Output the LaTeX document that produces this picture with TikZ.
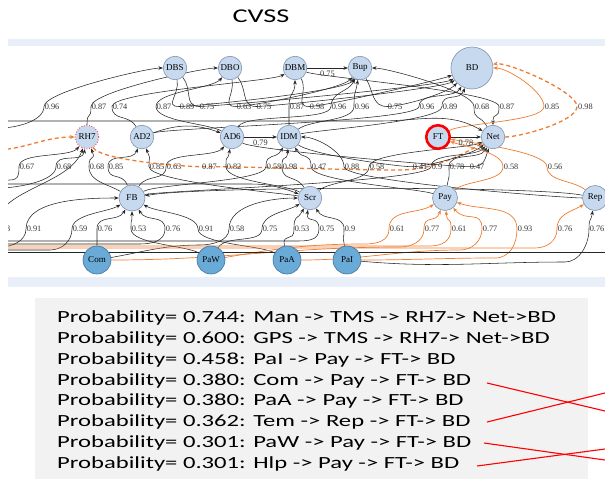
\documentclass[tikz,border=0pt]{standalone}
\usepackage{graphicx}
\usepackage{fontspec}
\setmainfont{Liberation Serif}
\newfontfamily\carl{Carlito}
\usetikzlibrary{arrows.meta}
\definecolor{nfill}{HTML}{C6D9EF}
\definecolor{ndraw}{HTML}{7F93AD}
\definecolor{bfill}{HTML}{6AAAD6}
\definecolor{bdraw}{HTML}{41719C}
\definecolor{org}{HTML}{ED7D31}
\definecolor{band}{HTML}{E9EFF8}
\definecolor{gbox}{HTML}{F2F2F2}
\pgfdeclarelayer{bg}\pgfsetlayers{bg,main}
\tikzset{
 nd/.style={circle, draw=ndraw, fill=nfill, line width=0.6pt, minimum size=23.5pt, inner sep=0pt, font=\fontsize{9}{9}\selectfont},
 bn/.style={nd, fill=bfill, draw=bdraw, minimum size=28pt},
 big/.style={nd, minimum size=42pt},
 ed/.style={draw=black!85, line width=0.55pt, -{Stealth[length=4.5pt,width=3.5pt]}},
 oe/.style={draw=org, line width=0.7pt, -{Stealth[length=4.5pt,width=3.5pt]}},
 od/.style={draw=org, line width=1.3pt, dash pattern=on 4pt off 3pt, -{Stealth[length=5pt,width=4pt]}},
 lab/.style={anchor=west, inner sep=0.5pt, font=\fontsize{8.3}{8.3}\selectfont, text=black!80},
 tl/.style={anchor=base west, inner sep=0pt, text=black, font=\carl\fontsize{17}{17}\selectfont},
 rl/.style={draw=red, line width=1.1pt},
}
\newcommand\edg[9][]{\draw[ed,#1] (#2) to[out=#3,in=#4,distance=15pt] (#5) node[lab]{#6} to[out=#7,in=#8,distance=15pt] (#9);}
\begin{document}
\begin{tikzpicture}[x=1pt,y=1pt]
\useasboundingbox (0,0) rectangle (605,-479);
\node[font=\carl\fontsize{19.5}{19.5}\selectfont] (title) at (261,-16.5) {\scalebox{1.45}[1]{CVSS}};
% nodes
\node[nd] (DBS) at (175,-68) {DBS};
\node[nd] (DBO) at (230,-68) {DBO};
\node[nd] (DBM) at (295,-68) {DBM};
\node[nd] (Bup) at (360,-68) {Bup};
\node[big] (BD) at (472,-68) {BD};
\node[nd, draw=red, dotted, line width=0.9pt] (RH7) at (87,-137) {RH7};
\node[nd] (AD2) at (142,-137) {AD2};
\node[nd] (AD6) at (232,-137) {AD6};
\node[nd] (IDM) at (289,-137) {IDM};
\node[nd, draw=red, line width=2.6pt] (FT) at (438,-137) {FT};
\node[nd] (Net) at (493,-137) {Net};
\node[nd, minimum size=26pt] (FB) at (132,-198) {FB};
\node[nd] (Scr) at (310,-198) {Scr};
\node[nd, minimum size=25pt] (Pay) at (445,-198) {Pay};
\node[nd, minimum size=25pt] (Rep) at (595,-198) {Rep};
\node[bn] (Com) at (97,-260) {Com};
\node[bn] (PaW) at (211,-260) {PaW};
\node[bn] (PaA) at (287,-260) {PaA};
\node[bn] (PaI) at (347,-260) {PaI};
% off-canvas ends
\coordinate (W1) at (0,-128);
\coordinate (W1b) at (0,-121);
\coordinate (W2) at (0,-150);
\coordinate (W3) at (0,-180);
\coordinate (W4) at (0,-188);
\coordinate (W5) at (0,-184);
\coordinate (Wa) at (-40,-250);
\coordinate (W6) at (0,-247);
\coordinate (W7) at (0,-250);
\coordinate (W8) at (0,-244);
\coordinate (W9) at (0,-241);
\coordinate (W10) at (0,-246);
\coordinate (W11) at (0,-248);
\coordinate (W12) at (0,-252);
\coordinate (E1) at (615,-252);
\begin{pgfonlayer}{bg}
\fill[white] (0,0) rectangle (605,-479);
\fill[band] (8,-39) rectangle (605,-46);
\fill[band] (8,-277) rectangle (605,-287);
\fill[gbox] (35,-298) rectangle (588,-479);
\begin{scope}
\clip (8,-46) rectangle (605,-277);
% top label row
\edg{W1}{0}{-90}{44,-106.5}{0.96}{90}{180}{DBS}
\edg{RH7}{90}{-90}{91,-106.5}{0.87}{90}{180}{DBO}
\edg{AD2}{120}{-90}{112,-106.5}{0.74}{90}{-150}{DBM}
\edg{AD6}{150}{-90}{156,-106.5}{0.87}{90}{-130}{DBO}
\edg{DBS}{-80}{180}{179,-106.5}{0.89}{0}{-120}{Bup}
\edg{DBS}{-50}{180}{199,-106.5}{0.75}{0}{-150}{BD}
\edg{DBO}{-80}{180}{236,-106.5}{0.63}{0}{-130}{Bup}
\edg{DBO}{-50}{180}{256,-106.5}{0.75}{0}{-145}{BD}
\edg{IDM}{90}{-90}{289,-106.5}{0.87}{90}{-90}{DBM}
\edg{DBM}{-60}{180}{309,-106.5}{0.98}{0}{-160}{BD}
\edg{AD6}{60}{-90}{331,-106.5}{0.96}{90}{-115}{Bup}
\edg{IDM}{40}{-90}{354,-106.5}{0.96}{90}{-100}{Bup}
\edg{Bup}{-60}{180}{387,-106.5}{0.75}{0}{-135}{BD}
\edg{AD2}{20}{-90}{419,-106.5}{0.96}{90}{-120}{BD}
\edg{IDM}{15}{-90}{442,-106.5}{0.89}{90}{-110}{BD}
\edg{Net}{120}{-90}{474,-106.5}{0.68}{90}{0}{Bup}
\edg{DBM}{-20}{90}{499,-106.5}{0.87}{-90}{90}{Net}
\edg[oe]{FT}{30}{-90}{544,-106.5}{0.85}{90}{0}{BD}
\edg[od]{Net}{0}{-90}{577,-106.5}{0.98}{90}{10}{BD}
\draw[ed] (DBM) -- (Bup) node[lab, midway, anchor=north, yshift=-2pt] {0.75};
% middle label row
\edg{W3}{0}{-90}{19,-166.7}{0.67}{90}{-130}{RH7}
\edg{W4}{0}{-90}{56,-166.7}{0.68}{90}{-100}{RH7}
\edg{FB}{150}{-90}{89,-166.7}{0.68}{90}{-70}{RH7}
\edg{FB}{110}{-90}{108,-166.7}{0.85}{90}{-110}{AD2}
\edg{Scr}{170}{-90}{149,-166.7}{0.85}{90}{-70}{AD2}
\edg{FB}{60}{-90}{166,-166.7}{0.63}{90}{-130}{AD6}
\draw[od] (RH7) to[out=-60,in=180,distance=15pt] (201,-166.7) node[lab]{0.87} to[out=0,in=180,distance=60pt] (400,-170) to[out=0,in=-150,distance=30pt] (Net);
\edg{Scr}{150}{-90}{226,-166.7}{0.82}{90}{-100}{AD6}
\edg{FB}{30}{-90}{266,-166.7}{0.58}{90}{-120}{IDM}
\edg{Scr}{120}{-90}{282,-166.7}{0.98}{90}{-95}{IDM}
\edg{Pay}{160}{-90}{311,-166.7}{0.47}{90}{-60}{IDM}
\edg{Rep}{180}{-90}{344,-166.7}{0.88}{90}{0}{IDM}
\edg{Scr}{40}{-90}{369,-166.7}{0.58}{90}{-155}{Net}
\edg{IDM}{-40}{180}{412,-166.7}{0.41}{0}{-140}{Net}
\edg{FB}{15}{-90}{431,-166.7}{0.9}{90}{-130}{Net}
\edg{Pay}{80}{-90}{449,-166.7}{0.78}{90}{-120}{Net}
\edg{AD6}{-30}{180}{469,-166.7}{0.47}{0}{-110}{Net}
\edg[oe]{Pay}{40}{-90}{503,-166.7}{0.58}{90}{-20}{FT}
\edg[oe]{Rep}{140}{-90}{547,-166.7}{0.56}{90}{-10}{FT}
\draw[ed] (AD6) -- (IDM) node[lab, midway, anchor=north, yshift=-2pt] {0.79};
\draw[ed] (FT) -- (Net) node[lab, midway, anchor=north, yshift=-2pt] {0.78};
\draw[od] (W2) to[out=5,in=180] (RH7);
\draw[ed] (AD2) to[out=20,in=160] (AD6);
\draw[ed] (W1b) -- (380,-121) to[out=0,in=150] (Net);
\draw[ed] (W5) -- (250,-184) to[out=0,in=160] (Scr);
\draw[ed] (Rep) .. controls (540,-186) and (200,-186) .. (FB);
% bottom label row
\draw[ed] (Wa) to[out=0,in=-90] (-5,-229) node[lab]{0.93} to[out=90,in=-110,distance=40pt] (RH7);
\draw[ed] (W6) to[out=0,in=-90,distance=12pt] (26,-229) node[lab]{0.91} to[out=90,in=180,distance=30pt] (FB);
\draw[ed] (W7) -- (50,-250) to[out=0,in=-90,distance=12pt] (72,-229) node[lab]{0.59} to[out=90,in=-150,distance=15pt] (FB);
\edg{Com}{90}{-90}{97,-229}{0.76}{90}{-120}{FB}
\edg{PaW}{150}{-90}{131,-229}{0.53}{90}{-90}{FB}
\draw[ed] (W8) -- (140,-244) to[out=0,in=-90,distance=12pt] (165,-229) node[lab]{0.76} to[out=90,in=-60,distance=15pt] (FB);
\edg{PaA}{150}{-90}{198,-229}{0.91}{90}{-30}{FB}
\draw[ed] (Com) to[out=10,in=180] (200,-245) to[out=0,in=-90,distance=12pt] (229,-229) node[lab]{0.58} to[out=90,in=180,distance=25pt] (Scr);
\edg{PaW}{60}{-90}{262,-229}{0.75}{90}{-150}{Scr}
\edg{PaA}{100}{-90}{294,-229}{0.53}{90}{-120}{Scr}
\draw[ed] (W9) -- (295,-241) to[out=0,in=-90,distance=12pt] (319,-229) node[lab]{0.75} to[out=90,in=-100,distance=15pt] (Scr);
\edg{PaI}{100}{-90}{344,-229}{0.9}{90}{-60}{Scr}
\draw[oe] (PaW) to[out=10,in=180] (365,-244) to[out=0,in=-90,distance=12pt] (389,-229) node[lab]{0.61} to[out=90,in=-150,distance=20pt] (Pay);
\draw[oe] (Com) to[out=0,in=180] (400,-247) to[out=0,in=-90,distance=12pt] (424,-229) node[lab]{0.77} to[out=90,in=-110,distance=15pt] (Pay);
\draw[oe] (W10) -- (430,-246) to[out=0,in=-90,distance=12pt] (451,-229) node[lab]{0.61} to[out=90,in=-85,distance=15pt] (Pay);
\draw[oe] (PaA) to[out=0,in=180] (460,-250) to[out=0,in=-90,distance=12pt] (482,-229) node[lab]{0.77} to[out=90,in=-50,distance=20pt] (Pay);
\draw[oe] (PaI) to[out=0,in=180] (495,-258) to[out=0,in=-90,distance=15pt] (517,-229) node[lab]{0.93} to[out=90,in=-20,distance=25pt] (Pay);
\draw[oe] (W11) -- (535,-248) to[out=0,in=-90,distance=12pt] (557,-229) node[lab]{0.76} to[out=90,in=-150,distance=15pt] (Rep);
\draw[ed] (PaI) to[out=-5,in=180] (565,-262) to[out=0,in=-90,distance=15pt] (589,-229) node[lab]{0.76} to[out=90,in=-100,distance=12pt] (Rep);
\draw[ed] (W12) -- (E1);
\end{scope}
\end{pgfonlayer}
% probability list
\node[tl] (l1) at (57,-322.7) {\scalebox{1.45}[1]{Probability= 0.744: Man -> TMS -> RH7-> Net->BD}};
\node[tl] (l2) at (57,-343.5) {\scalebox{1.45}[1]{Probability= 0.600: GPS -> TMS -> RH7-> Net->BD}};
\node[tl] (l3) at (57,-364.3) {\scalebox{1.45}[1]{Probability= 0.458: PaI -> Pay -> FT-> BD}};
\node[tl] (l4) at (57,-385.1) {\scalebox{1.45}[1]{Probability= 0.380: Com -> Pay -> FT-> BD}};
\node[tl] (l5) at (57,-405.9) {\scalebox{1.45}[1]{Probability= 0.380: PaA -> Pay -> FT-> BD}};
\node[tl] (l6) at (57,-426.7) {\scalebox{1.45}[1]{Probability= 0.362: Tem -> Rep -> FT-> BD}};
\node[tl] (l7) at (57,-447.5) {\scalebox{1.45}[1]{Probability= 0.301: PaW -> Pay -> FT-> BD}};
\node[tl] (l8) at (57,-468.3) {\scalebox{1.45}[1]{Probability= 0.301: Hlp -> Pay -> FT-> BD}};
\coordinate (s4) at (487,-383);
\coordinate (e4) at (605,-411);
\coordinate (s6) at (487,-422);
\coordinate (e6) at (605,-393);
\coordinate (s7) at (484,-443);
\coordinate (e7) at (605,-460);
\coordinate (s8) at (477,-466);
\coordinate (e8) at (605,-449);
\draw[rl] (s4) -- (e4);
\draw[rl] (s6) -- (e6);
\draw[rl] (s7) -- (e7);
\draw[rl] (s8) -- (e8);
\end{tikzpicture}
\end{document}
